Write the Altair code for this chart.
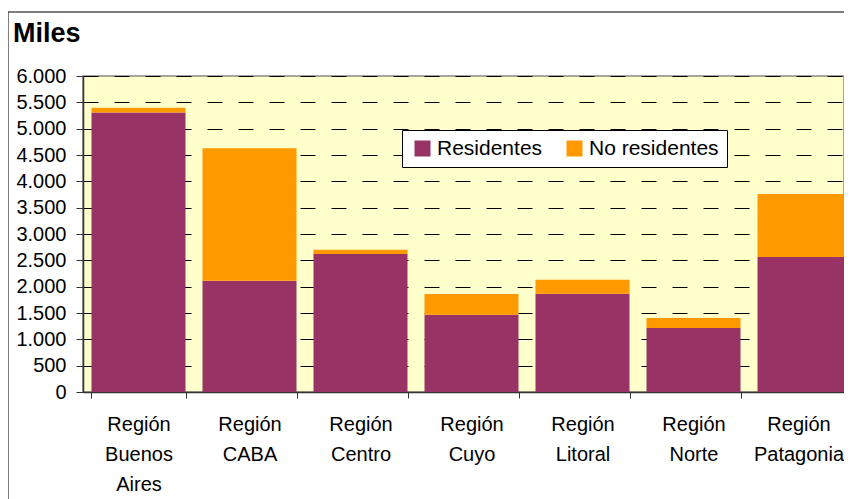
import altair as alt
import pandas as pd

categorias = ["Región Buenos Aires", "Región CABA", "Región Centro", "Región Cuyo",
              "Región Litoral", "Región Norte", "Región Patagonia"]
residentes = [5305, 2110, 2620, 1465, 1865, 1215, 2565]
no_residentes = [90, 2520, 80, 395, 265, 190, 1195]
series = ["Residentes", "No residentes"]
colores = ["#993366", "#FF9900"]
y_ticks = list(range(0, 6001, 500))

rows = []
for c, r, n in zip(categorias, residentes, no_residentes):
    rows.append({"cat": c, "serie": series[0], "valor": r, "ord": 0})
    rows.append({"cat": c, "serie": series[1], "valor": n, "ord": 1})
df = pd.DataFrame(rows)

FONT = "Liberation Sans"

bars = alt.Chart(df).mark_bar(clip=False).encode(
    x=alt.X("cat:N", sort=categorias,
            scale=alt.Scale(range=[0, 777], paddingInner=0.153, paddingOuter=0.0765),
            axis=alt.Axis(title=None, labelAngle=0, labelFontSize=20, labelFont=FONT,
                          labelColor="black", tickBand="extent", tickSize=6,
                          tickColor="#333333", domainColor="#333333", domainWidth=1.5,
                          labelLineHeight=30, labelBaseline="top", labelPadding=16,
                          labelOffset={"condition": {"test": "datum.label == 'Región Patagonia'",
                                                     "value": -6}, "value": 0},
                          labelExpr="split(datum.label, ' ')", grid=False)),
    y=alt.Y("valor:Q", stack="zero",
            scale=alt.Scale(domain=[0, 6000], nice=False),
            axis=alt.Axis(title=None, values=y_ticks, labelFontSize=20, labelFont=FONT,
                          labelColor="black", tickColor="#333333", tickSize=7,
                          labelPadding=10, domainColor="#333333", domainWidth=1.5,
                          labelExpr="replace(format(datum.value, ','), ',', '.')",
                          grid=True, gridDash=[15, 16], gridColor="black",
                          gridWidth=1)),
    color=alt.Color("serie:N", scale=alt.Scale(domain=series, range=colores),
                    legend=alt.Legend(title=None, orient="none", legendX=319, legendY=54,
                                      direction="horizontal", fillColor="white",
                                      strokeColor="black", padding=8, symbolType="square",
                                      symbolSize=256, symbolStrokeWidth=0, symbolOffset=2,
                                      labelFontSize=21, labelFont=FONT, labelColor="black",
                                      gridAlign="none", columnPadding=19, labelOffset=4)),
    order=alt.Order("ord:Q"),
)

frame_df = pd.DataFrame({"k": [0]})
frame = alt.Chart(frame_df).mark_rect(fill=None, stroke="black", strokeWidth=1, clip=False).encode(
    x=alt.value(-75), x2=alt.value(900), y=alt.value(-64), y2=alt.value(600)
)

title_df = pd.DataFrame({"t": ["Miles"]})
title = alt.Chart(title_df).mark_text(align="left", baseline="alphabetic", font=FONT,
                                      fontSize=27, fontWeight="bold", color="black",
                                      clip=False).encode(
    x=alt.value(-70), y=alt.value(-34), text="t:N"
)

chart = alt.layer(frame, bars, title).properties(
    width=761, height=316,
    padding={"left": 75, "top": 68, "right": 0, "bottom": 107},
    autosize=alt.AutoSizeParams(type="none"),
    background="white",
).configure_view(fill="#FFFFCC", stroke="#888888", strokeWidth=1.5)

chart.save("out.html", embed_options={"renderer": "svg", "actions": False})
